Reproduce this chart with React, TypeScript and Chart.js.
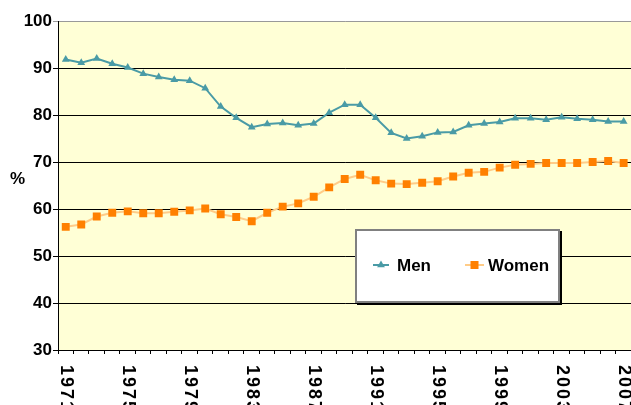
import { useEffect, useRef } from "react";
import { Chart, registerables } from "chart.js";
Chart.register(...registerables);

const years = [
  "1971", "1972", "1973", "1974", "1975", "1976", "1977", "1978", "1979", "1980",
  "1981", "1982", "1983", "1984", "1985", "1986", "1987", "1988", "1989", "1990",
  "1991", "1992", "1993", "1994", "1995", "1996", "1997", "1998", "1999", "2000",
  "2001", "2002", "2003", "2004", "2005", "2006", "2007",
];
const men = [
  91.8, 91.1, 92.0, 90.9, 90.1, 88.8, 88.1, 87.5, 87.3, 85.7,
  81.8, 79.4, 77.4, 78.1, 78.3, 77.8, 78.2, 80.5, 82.2, 82.2,
  79.4, 76.2, 75.0, 75.5, 76.3, 76.4, 77.8, 78.2, 78.5, 79.3,
  79.3, 79.0, 79.5, 79.2, 79.0, 78.6, 78.6,
];
const women = [
  56.2, 56.7, 58.4, 59.2, 59.5, 59.1, 59.1, 59.4, 59.7, 60.1,
  58.9, 58.3, 57.4, 59.2, 60.5, 61.2, 62.6, 64.6, 66.4, 67.3,
  66.1, 65.4, 65.3, 65.6, 65.9, 66.9, 67.7, 67.9, 68.8, 69.4,
  69.6, 69.8, 69.8, 69.8, 70.0, 70.2, 69.8,
];
const xLabelYears = ["1971", "1975", "1979", "1983", "1987", "1991", "1995", "1999", "2003", "2007"];
const yMin = 30;
const yMax = 100;
const yStep = 10;
const seriesNames = ["Men", "Women"];

const FONT = '"Liberation Sans", Arial, sans-serif';
const MEN_COLOR = "#4A9BA6";
const WOMEN_LINE = "#FFCC88";
const WOMEN_MARK = "#FF8000";

export default function App() {
  const ref = useRef<HTMLCanvasElement>(null);
  useEffect(() => {
    const bgPlugin = {
      id: "bg",
      beforeDraw(chart: any) {
        const { ctx, chartArea: a } = chart;
        ctx.save();
        ctx.fillStyle = "#FFFFD6";
        ctx.fillRect(a.left, a.top, a.right - a.left, a.bottom - a.top);
        ctx.restore();
      },
    };
    const overlay = {
      id: "overlay",
      afterDraw(chart: any) {
        const { ctx } = chart;
        const xs = chart.scales.x;
        ctx.save();
        ctx.fillStyle = "#000";
        ctx.font = `bold 18px ${FONT}`;
        ctx.textAlign = "left";
        ctx.textBaseline = "middle";
        (ctx as any).letterSpacing = "2px";
        years.forEach((yr, i) => {
          if (!xLabelYears.includes(yr)) return;
          const x = xs.getPixelForValue(i);
          ctx.save();
          ctx.translate(x, 365);
          ctx.rotate(Math.PI / 2);
          ctx.fillText(yr, 0, 0);
          ctx.restore();
        });
        (ctx as any).letterSpacing = "0px";
        ctx.font = `bold 17px ${FONT}`;
        ctx.fillText("%", 10, 179);

        // legend
        ctx.fillStyle = "#000";
        ctx.fillRect(357, 231, 205, 74);
        ctx.fillStyle = "#fff";
        ctx.fillRect(355, 229, 205, 74);
        ctx.strokeStyle = "#808080";
        ctx.lineWidth = 2;
        ctx.strokeRect(356, 230, 203, 72);

        const ly = 265;
        ctx.strokeStyle = MEN_COLOR;
        ctx.lineWidth = 2;
        ctx.beginPath();
        ctx.moveTo(373, ly);
        ctx.lineTo(389, ly);
        ctx.stroke();
        ctx.fillStyle = MEN_COLOR;
        const r = 4.5;
        ctx.beginPath();
        ctx.moveTo(381, ly - r);
        ctx.lineTo(381 + r * 0.866, ly + r / 2);
        ctx.lineTo(381 - r * 0.866, ly + r / 2);
        ctx.closePath();
        ctx.fill();

        ctx.strokeStyle = WOMEN_LINE;
        ctx.beginPath();
        ctx.moveTo(465, ly);
        ctx.lineTo(484, ly);
        ctx.stroke();
        ctx.fillStyle = WOMEN_MARK;
        ctx.fillRect(470.5, ly - 4, 8, 8);

        ctx.fillStyle = "#000";
        ctx.font = `bold 17px ${FONT}`;
        ctx.textBaseline = "middle";
        ctx.fillText(seriesNames[0], 397, ly + 1);
        ctx.fillText(seriesNames[1], 488, ly + 1);
        ctx.restore();
      },
    };
    const chart = new Chart(ref.current!, {
      type: "line",
      data: {
        labels: years,
        datasets: [
          {
            label: seriesNames[0],
            data: men,
            borderColor: MEN_COLOR,
            backgroundColor: MEN_COLOR,
            borderWidth: 2,
            pointStyle: "triangle",
            pointRadius: 4.5,
            pointBorderWidth: 0,
            pointBackgroundColor: MEN_COLOR,
            tension: 0,
          },
          {
            label: seriesNames[1],
            data: women,
            borderColor: WOMEN_LINE,
            backgroundColor: WOMEN_MARK,
            borderWidth: 2,
            pointStyle: "rect",
            pointRadius: 5.6,
            pointBorderWidth: 0,
            pointBackgroundColor: WOMEN_MARK,
            tension: 0,
          },
        ],
      },
      options: {
        responsive: false,
        animation: false,
        devicePixelRatio: 1,
        layout: { padding: { top: 21, right: 0, left: 0, bottom: 0 } },
        plugins: { legend: { display: false }, tooltip: { enabled: false } },
        scales: {
          x: {
            offset: true,
            grid: { offset: true, drawOnChartArea: false, drawTicks: true, tickLength: 4, color: "#000" },
            border: { color: "#000", width: 1 },
            ticks: { display: false },
            afterFit(s: any) {
              s.height = 55;
            },
          },
          y: {
            min: yMin,
            max: yMax,
            ticks: {
              stepSize: yStep,
              color: "#000",
              font: { family: FONT, size: 17, weight: "bold" },
              padding: 1,
            },
            grid: {
              color: (c: any) => (c.tick && c.tick.value === yMax ? "#999999" : "#000000"),
              tickLength: 5,
            },
            border: { color: "#000", width: 1 },
            afterFit(s: any) {
              s.width = 58;
            },
          },
        },
      },
      plugins: [bgPlugin, overlay],
    } as any);
    return () => chart.destroy();
  }, []);
  return (
    <div style={{ position: "fixed", left: 0, top: 0, width: 631, height: 405, overflow: "hidden", background: "#fff" }}>
      <canvas ref={ref} width={637} height={405} style={{ display: "block" }} />
    </div>
  );
}
